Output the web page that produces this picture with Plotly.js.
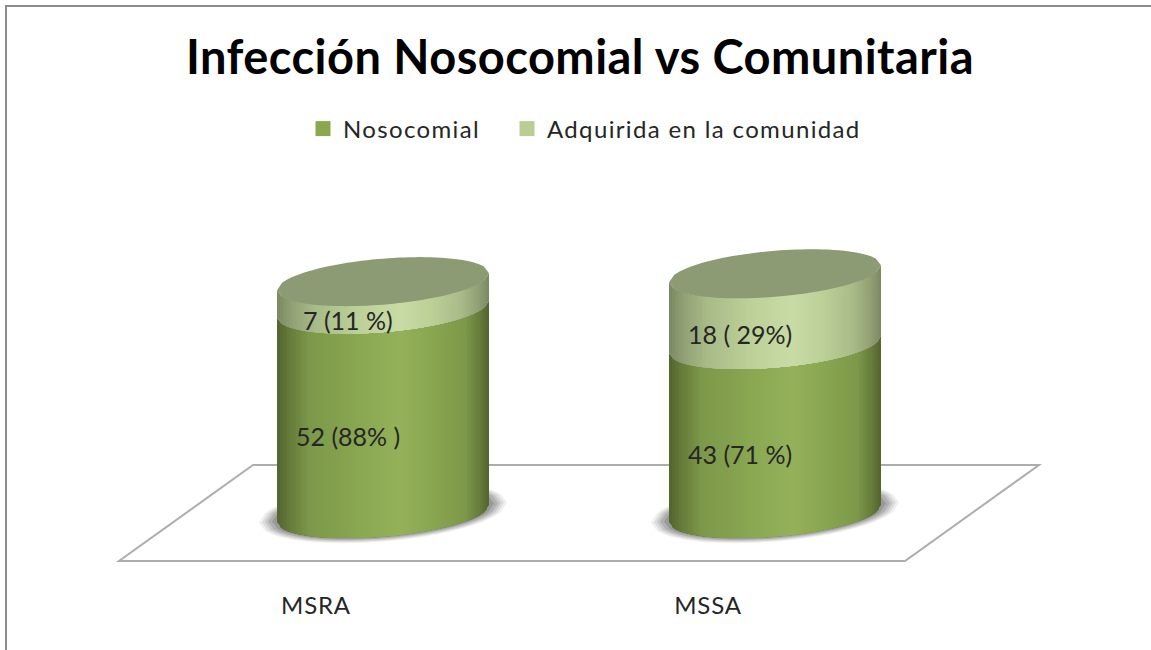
<!DOCTYPE html>
<html>
<head>
<meta charset="utf-8">
<script src="https://cdn.plot.ly/plotly-3.0.1.min.js"></script>
<style>html,body{margin:0;padding:0;background:#fff}#chart{width:1151px;height:650px}
.gtitle{letter-spacing:.45px}
.legendtext{letter-spacing:1.35px}
.xtick text{letter-spacing:.8px}
.legend .scrollbox{clip-path:none !important}
</style>
</head>
<body>
<div id="chart"></div>
<script>
// --- data ---
const categories = ['MSRA', 'MSSA'];
const nosocomial = [52, 43];
const adquirida = [7, 18];
const labelsNosocomial = ['52 (88% )', '43 (71 %)'];
const labelsAdquirida = ['7 (11 %)', '18 ( 29%)'];
const seriesNames = ['Nosocomial', 'Adquirida en la comunidad'];
const chartTitle = 'Infección Nosocomial vs Comunitaria';

// --- frame: pixel scale of the two axes ---
const W = 1151, H = 650, PLOT_BOTTOM = 585;
const PX_X = 392, X0_PX = 316;        // px per category, px of category 0
const PX_Y = 3.93, Y0_PX = 513.5;     // px per unit, px of value 0
const dataX = px => (px - X0_PX) / PX_X;
const dataY = px => (Y0_PX - px) / PX_Y;
const paperX = px => px / W;
const paperY = px => 1 - px / PLOT_BOTTOM;

// --- cylinder look ---
const OFFSET = 67 / PX_X, HALF_W = 106, ELL_B = 23, TILT = -17 / 212, PEAK = 0.16, LEVELS = 40;
const FONT = 'Lato, "Open Sans", sans-serif';
const darkStops = [[1,'#54672F'],[.92,'#64793A'],[.75,'#7C9849'],[.4,'#88A550'],[0,'#94B25A']];
const lightStops = [[1,'#7D8B64'],[.9,'#8F9F73'],[.7,'#A9BB88'],[.35,'#BCD098'],[0,'#C9DCA6']];

function hex(c){return [1,3,5].map(i=>parseInt(c.substr(i,2),16));}
function colorAt(stops,t){
  for(let i=0;i<stops.length-1;i++){
    const [a,ca]=stops[i],[b,cb]=stops[i+1];
    if(t<=a&&t>=b){
      const f=(t-b)/(a-b),A=hex(ca),B=hex(cb);
      return 'rgb('+A.map((v,k)=>Math.round(B[k]+(v-B[k])*f)).join(',')+')';
    }
  }
  return stops[stops.length-1][1];
}
// front arc of the tilted ellipse at a data level, between u0 and u1 (-1..1)
function arc(cat,level,u0,u1,sign,a,b){
  const xs=[],ys=[],n=40;
  for(let i=0;i<=n;i++){
    const u=u0+(u1-u0)*i/n, dx=u*a;
    xs.push(cat+OFFSET+dx/PX_X);
    ys.push(level-(TILT*dx+sign*b*Math.sqrt(Math.max(0,1-u*u)))/PX_Y);
  }
  return [xs,ys];
}
function ellipse(cat,level,a,b){
  const f=arc(cat,level,-1,1,1,a,b), k=arc(cat,level,1,-1,-1,a,b);
  return [f[0].concat(k[0]),f[1].concat(k[1])];
}
function bodyTrace(lows,highs,stops,t){
  const xs=[],ys=[];
  const uL=PEAK+t*(-1-PEAK), uR=PEAK+t*(1-PEAK);
  categories.forEach((c,i)=>{
    const lo=arc(i,lows[i],uL,uR,1,HALF_W,ELL_B), hi=arc(i,highs[i],uR,uL,1,HALF_W,ELL_B);
    xs.push(...lo[0],...hi[0],null); ys.push(...lo[1],...hi[1],null);
  });
  return {type:'scatter',mode:'none',fill:'toself',x:xs,y:ys,fillcolor:colorAt(stops,t),showlegend:false,hoverinfo:'skip'};
}

const traces=[];
// legend keys
seriesNames.forEach((n,i)=>traces.push({type:'scatter',mode:'markers',x:[null],y:[null],name:n,
  marker:{symbol:'square',size:15,color:i?'#B8CF93':'#8BA84F'},hoverinfo:'skip'}));
// soft shadow on the floor
const shadow=[[124,29,.1],[121,28,.13],[118,27,.17],[115,26,.22],[111,25,.28]];
shadow.forEach(s=>{
  const xs=[],ys=[];
  categories.forEach((c,i)=>{const e=ellipse(i,dataY(Y0_PX-1),s[0],s[1]);xs.push(...e[0],null);ys.push(...e[1],null);});
  traces.push({type:'scatter',mode:'none',fill:'toself',x:xs,y:ys,fillcolor:'rgba(95,95,95,'+s[2]+')',showlegend:false,hoverinfo:'skip'});
});
// the stacked values themselves
traces.push({type:'bar',x:categories.map((c,i)=>i+OFFSET),y:nosocomial,width:.37,marker:{color:'#8BA84F'},showlegend:false,hovertext:labelsNosocomial,hoverinfo:'text'});
traces.push({type:'bar',x:categories.map((c,i)=>i+OFFSET),y:adquirida,width:.37,marker:{color:'#B8CF93'},showlegend:false,hovertext:labelsAdquirida,hoverinfo:'text'});
// shaded cylinder surfaces
const zero=categories.map(()=>0);
const tops=nosocomial.map((v,i)=>v+adquirida[i]);
for(let l=0;l<LEVELS;l++){traces.push(bodyTrace(zero,nosocomial,darkStops,1-l/LEVELS));}
for(let l=0;l<LEVELS;l++){traces.push(bodyTrace(nosocomial,tops,lightStops,1-l/LEVELS));}
// top faces
(function(){
  const xs=[],ys=[];
  categories.forEach((c,i)=>{const e=ellipse(i,tops[i],HALF_W,ELL_B);xs.push(...e[0],null);ys.push(...e[1],null);});
  traces.push({type:'scatter',mode:'none',fill:'toself',x:xs,y:ys,fillcolor:'#8C9B73',showlegend:false,hoverinfo:'skip'});
})();

const annotations=[];
categories.forEach((c,i)=>{
  [[nosocomial[i]/2,labelsNosocomial[i]],[nosocomial[i]+adquirida[i]/2,labelsAdquirida[i]]].forEach(a=>{
    annotations.push({x:i+OFFSET,y:a[0],xref:'x',yref:'y',text:a[1],showarrow:false,xshift:-35,yshift:-25,
      font:{family:FONT,size:25,color:'#262626'}});
  });
});

const floorPts=[[253,465],[1039,465],[905,561],[119,561]];
const floorPath=floorPts.map((p,i)=>(i?'L':'M')+dataX(p[0])+','+dataY(p[1])).join(' ')+' Z';

const layout={
  width:W,height:H,paper_bgcolor:'#fff',plot_bgcolor:'rgba(0,0,0,0)',
  margin:{l:0,r:0,t:0,b:H-PLOT_BOTTOM,pad:0},
  barmode:'stack',
  title:{text:'<b>'+chartTitle+'</b>',x:580/W,xanchor:'center',y:1-58/H,yanchor:'middle',font:{family:FONT,size:47,color:'#000'}},
  showlegend:true,
  legend:{orientation:'h',traceorder:'normal',entrywidth:159,entrywidthmode:'pixels',x:paperX(303),xanchor:'left',y:paperY(129),yanchor:'middle',bgcolor:'rgba(0,0,0,0)',
    font:{family:FONT,size:24,color:'#262626'}},
  xaxis:{range:[dataX(0),dataX(W)],tickmode:'array',tickvals:categories.map((c,i)=>i),ticktext:categories,
    showgrid:false,zeroline:false,showline:false,ticks:'',ticklabelstandoff:4,fixedrange:true,
    tickfont:{family:FONT,size:24,color:'#262626'}},
  yaxis:{range:[dataY(PLOT_BOTTOM),dataY(0)],visible:false,showgrid:false,zeroline:false,fixedrange:true},
  annotations:annotations,
  shapes:[
    {type:'path',layer:'below',xref:'x',yref:'y',path:floorPath,line:{color:'#adadad',width:2},fillcolor:'rgba(0,0,0,0)'},
    {type:'line',xref:'paper',yref:'paper',x0:paperX(6),x1:paperX(6),y0:paperY(6),y1:paperY(H),line:{color:'#8c8c8c',width:2}},
    {type:'line',xref:'paper',yref:'paper',x0:paperX(5),x1:paperX(W),y0:paperY(6),y1:paperY(6),line:{color:'#8c8c8c',width:2}}
  ]
};
Plotly.newPlot('chart',traces,layout,{displayModeBar:false,responsive:false});
</script>
</body>
</html>
